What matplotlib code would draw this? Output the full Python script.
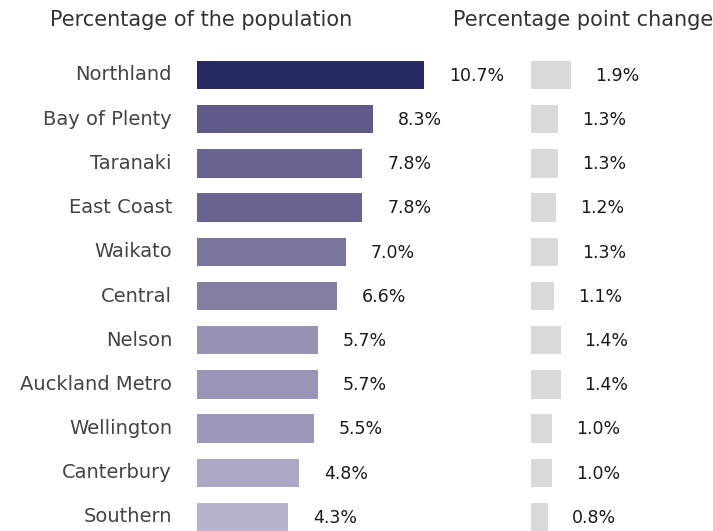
import matplotlib.pyplot as plt

# data
regions = ["Northland", "Bay of Plenty", "Taranaki", "East Coast", "Waikato",
           "Central", "Nelson", "Auckland Metro", "Wellington", "Canterbury",
           "Southern"]
pct_pop = [10.7, 8.3, 7.8, 7.8, 7.0, 6.6, 5.7, 5.7, 5.5, 4.8, 4.3]
pp_change = [1.9, 1.3, 1.3, 1.2, 1.3, 1.1, 1.4, 1.4, 1.0, 1.0, 0.8]
bar_colors = ["#262a63", "#5e5a8a", "#67658f", "#67658f", "#79769e", "#827fa3",
              "#9893b5", "#9a95b6", "#9c98b9", "#aca8c6", "#b7b3cd"]
change_color = "#d9d9d9"

W, H = 713, 531
fig = plt.figure(figsize=(W / 100, H / 100), dpi=100)

px = 21.15            # pixels per percent
row0, step = 75, 44.2  # row centre / spacing in pixels
ytop = -row0 / step
ybot = (H - row0) / step
bh = 28.4 / step

# left panel
x0 = 197.5
axL = fig.add_axes([x0 / W, 0, (531 - x0) / W, 1])
axL.barh(range(len(regions)), pct_pop, height=bh, color=bar_colors)
axL.set_xlim(0, (531 - x0) / px)
axL.set_ylim(ybot, ytop)
for i, v in enumerate(pct_pop):
    axL.text(v + 25 / px, i + 0.02, f"{v:.1f}%", va="center", ha="left",
             fontsize=12.5, color="#1a1a1a")
axL.axis("off")

# right panel
x1 = 531
axR = fig.add_axes([x1 / W, 0, (W - x1) / W, 1])
axR.barh(range(len(regions)), pp_change, height=bh, color=change_color)
axR.set_xlim(0, (W - x1) / px)
axR.set_ylim(ybot, ytop)
for i, v in enumerate(pp_change):
    axR.text(v + 24 / px, i + 0.02, f"{v:.1f}%", va="center", ha="left",
             fontsize=12.5, color="#1a1a1a")
axR.axis("off")

# category labels
for i, name in enumerate(regions):
    fig.text(172 / W, 1 - (row0 + step * i) / H, name, ha="right", va="center",
             fontsize=14, color="#444444")

fig.text(50 / W, 1 - 20 / H, "Percentage of the population", ha="left",
         va="center", fontsize=15, color="#333333")
fig.text(453 / W, 1 - 20 / H, "Percentage point change", ha="left",
         va="center", fontsize=15, color="#333333")

fig.savefig("out.png", dpi=100, facecolor="white")
